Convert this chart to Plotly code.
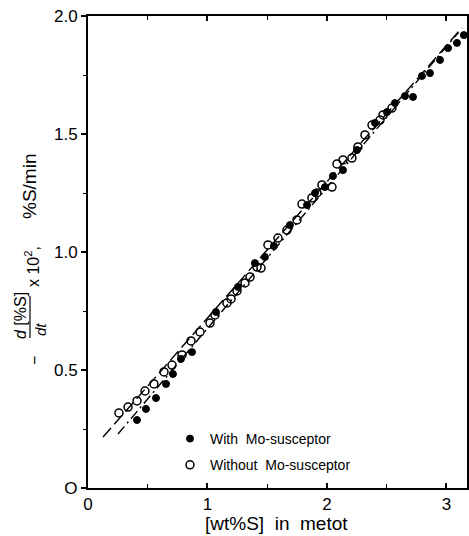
import plotly.graph_objects as go

# ---- data ----
with_x = [0.41, 0.485, 0.569, 0.653, 0.711, 0.778, 0.870, 1.071, 1.255, 1.397, 1.481, 1.556,
          1.690, 1.833, 1.900, 1.983, 2.050, 2.134, 2.251, 2.402, 2.502, 2.569, 2.653, 2.720,
          2.795, 2.862, 2.946, 3.013, 3.088, 3.146]
with_y = [0.288, 0.335, 0.381, 0.441, 0.483, 0.547, 0.576, 0.746, 0.852, 0.953, 0.979, 1.025,
          1.114, 1.199, 1.250, 1.275, 1.322, 1.347, 1.432, 1.547, 1.593, 1.631, 1.661, 1.657,
          1.746, 1.758, 1.814, 1.864, 1.886, 1.919]

without_x = [0.259, 0.335, 0.410, 0.477, 0.552, 0.636, 0.703, 0.787, 0.862, 0.937, 1.021, 1.063,
             1.163, 1.197, 1.247, 1.314, 1.356, 1.414, 1.448, 1.506, 1.590, 1.665, 1.749, 1.791,
             1.874, 1.916, 1.958, 2.042, 2.084, 2.134, 2.209, 2.259, 2.318, 2.377, 2.444, 2.469,
             2.544]
without_y = [0.318, 0.343, 0.369, 0.411, 0.441, 0.492, 0.521, 0.564, 0.623, 0.661, 0.699, 0.733,
             0.784, 0.801, 0.835, 0.869, 0.894, 0.936, 0.932, 1.030, 1.059, 1.093, 1.136, 1.203,
             1.229, 1.250, 1.284, 1.275, 1.373, 1.390, 1.398, 1.445, 1.496, 1.538, 1.559, 1.581,
             1.610]

fit_without_x = [0.126, 3.13]
fit_without_y = [0.216, 1.95]
fit_with_x = [0.251, 3.10]
fit_with_y = [0.229, 1.93]

x_tickvals = [0, 1, 2, 3]
x_ticktext = ["0", "1", "2", "3"]
y_tickvals = [0, 0.5, 1.0, 1.5, 2.0]
y_ticktext = ["O", "0.5", "1.0", "1.5", "2.0"]

FONT = "Liberation Sans"

fig = go.Figure()
fig.add_trace(go.Scatter(x=fit_without_x, y=fit_without_y, mode="lines",
                         line=dict(color="black", width=1.4, dash="12px,5px"),
                         showlegend=False, hoverinfo="skip"))
fig.add_trace(go.Scatter(x=fit_with_x, y=fit_with_y, mode="lines",
                         line=dict(color="black", width=1.4, dash="10px,4px,2px,4px"),
                         showlegend=False, hoverinfo="skip"))
fig.add_trace(go.Scatter(x=with_x, y=with_y, mode="markers", name="With  Mo-susceptor",
                         legendgroup="a",
                         marker=dict(symbol="circle", size=7, color="black",
                                     line=dict(color="black", width=1))))
fig.add_trace(go.Scatter(x=without_x, y=without_y, mode="markers", name="Without  Mo-susceptor",
                         legendgroup="b",
                         marker=dict(symbol="circle-open", size=8, color="black",
                                     line=dict(color="black", width=1.5))))

axis_common = dict(showgrid=False, zeroline=False, showline=True, linecolor="black",
                   linewidth=2, mirror="ticks", tickcolor="black", tickwidth=1.5,
                   automargin=False,
                   tickfont=dict(family=FONT, size=17, color="black"))

fig.update_xaxes(range=[0, 3.172], tickvals=x_tickvals, ticktext=x_ticktext,
                 ticks="inside", ticklen=5,
                 minor=dict(dtick=0.5, ticks="inside", ticklen=4, tickcolor="black", tickwidth=1),
                 **axis_common)
fig.update_yaxes(range=[0, 2.0], tickvals=y_tickvals, ticktext=y_ticktext,
                 ticks="outside", ticklen=5,
                 minor=dict(dtick=0.25, ticks="outside", ticklen=3, tickcolor="black", tickwidth=1),
                 **axis_common)

L, T, PW, PH = 88, 16, 379, 472


def px2p(px, py):
    return (px - L) / PW, (T + PH - py) / PH


annots = []
def ann(text, px, py, size=15, angle=-90, xanchor="center", yanchor="middle"):
    xp, yp = px2p(px, py)
    annots.append(dict(text=text, x=xp, y=yp, xref="paper", yref="paper", showarrow=False,
                       textangle=angle, xanchor=xanchor, yanchor=yanchor,
                       font=dict(family=FONT, size=size, color="black")))

ann("%S/min", 29, 187, size=19)
ann("x 10<sup>2</sup>,", 32, 267, size=16)
ann("<i>d</i> [%S]", 20, 316, size=16)
ann("<i>dt</i>", 40, 330, size=15)
ann("\u2212", 34, 360, size=16)
ann("[wt%S]  in  metot", 203, 523, size=19, angle=0, xanchor="left")

bx0, by0 = px2p(30, 296)
bx1, by1 = px2p(30, 338)

fig.update_layout(
    width=469, height=536,
    margin=dict(l=L, r=469 - L - PW, t=T, b=536 - T - PH, autoexpand=False),
    plot_bgcolor="white", paper_bgcolor="white",
    font=dict(family=FONT, color="black"),
    annotations=annots,
    shapes=[dict(type="line", xref="paper", yref="paper", x0=bx0, y0=by0, x1=bx1, y1=by1,
                 line=dict(color="black", width=1.2))],
    legend=dict(x=(170 - L) / PW, y=(488 - 423) / PH, xanchor="left", yanchor="top",
                bgcolor="rgba(0,0,0,0)", font=dict(family=FONT, size=14, color="black"),
                itemwidth=30, tracegroupgap=5, traceorder="grouped"),
)

fig.write_html("out.html", config={"displayModeBar": False},
               post_script="document.body.style.margin='0';document.body.style.overflow='hidden';")
